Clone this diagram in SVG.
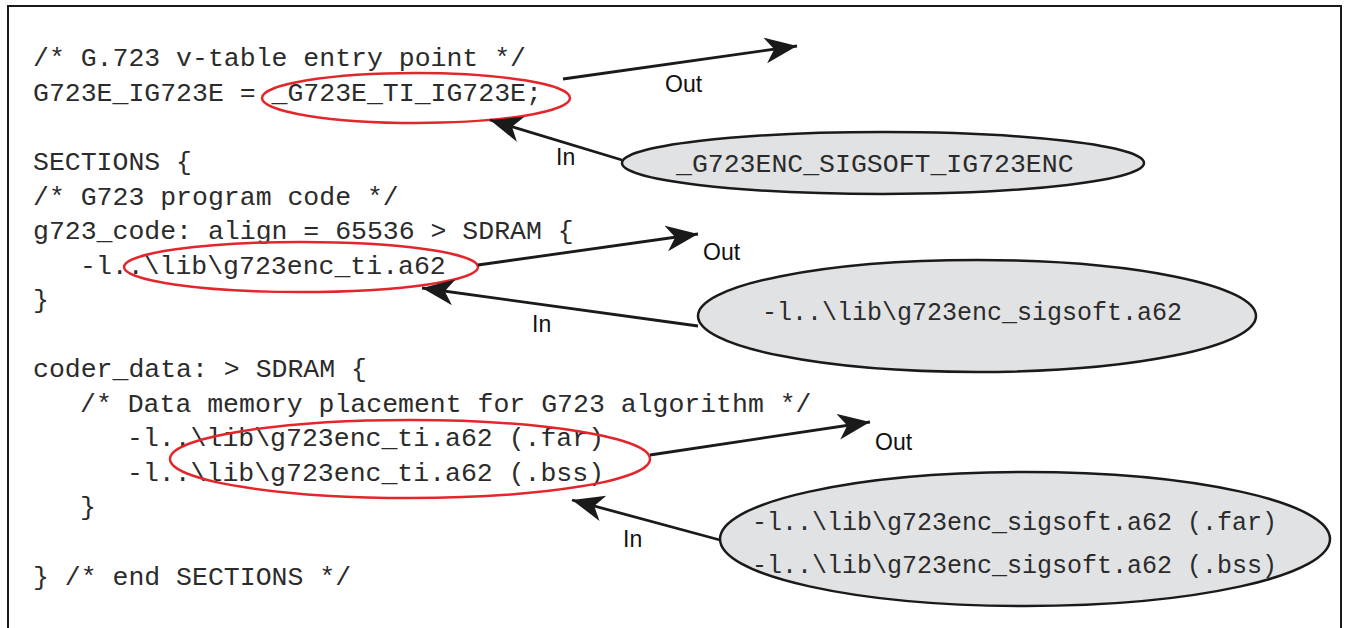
<svg xmlns="http://www.w3.org/2000/svg" width="1348" height="628" viewBox="0 0 1348 628">
  <defs>
    <style>
      .code { font-family: "Liberation Mono", "Courier New", monospace; font-size: 26.5px; fill: #2b2b2b; }
      .ncode { font-family: "Liberation Mono", "Courier New", monospace; font-size: 25px; fill: #2b2b2b; }
      .lbl { font-family: "Liberation Sans", Arial, sans-serif; font-size: 23px; fill: #111; }
      .hl { fill: none; stroke: #e3262b; stroke-width: 2.5; }
      .node { fill: #e1e2e4; stroke: #1a1a1a; stroke-width: 2.5; }
      .conn { fill: none; stroke: #1a1a1a; stroke-width: 2.8; marker-end: url(#ah); }
    </style>
    <marker id="ah" markerUnits="userSpaceOnUse" markerWidth="36" markerHeight="28" refX="32" refY="13" orient="auto">
      <path d="M32,13 L0,0 L9,13 L0,26 Z" fill="#1a1a1a"/>
    </marker>
  </defs>

  <!-- frame -->
  <rect x="8" y="6" width="1333" height="640" fill="#fff" stroke="#1a1a1a" stroke-width="2"/>

  <!-- linker command listing -->
  <g id="listing">
    <text class="code" x="33" y="66">/* G.723 v-table entry point */</text>
    <text class="code" x="33" y="101">G723E_IG723E = _G723E_TI_IG723E;</text>
    <text class="code" x="33" y="170">SECTIONS {</text>
    <text class="code" x="33" y="205">/* G723 program code */</text>
    <text class="code" x="33" y="239">g723_code: align = 65536 &gt; SDRAM {</text>
    <text class="code" x="80" y="274">-l..\lib\g723enc_ti.a62</text>
    <text class="code" x="33" y="308">}</text>
    <text class="code" x="33" y="377">coder_data: &gt; SDRAM {</text>
    <text class="code" x="80" y="412">/* Data memory placement for G723 algorithm */</text>
    <text class="code" x="127" y="446">-l..\lib\g723enc_ti.a62 (.far)</text>
    <text class="code" x="127" y="481">-l..\lib\g723enc_ti.a62 (.bss)</text>
    <text class="code" x="80" y="515">}</text>
    <text class="code" x="33" y="585">} /* end SECTIONS */</text>
  </g>

  <!-- highlighted TI symbols -->
  <g id="ti-entry"><ellipse class="hl" cx="416" cy="98" rx="154" ry="25"/></g>
  <g id="ti-code"><ellipse class="hl" cx="301" cy="267" rx="177" ry="25"/></g>
  <g id="ti-data"><ellipse class="hl" cx="410" cy="459" rx="240" ry="39"/></g>

  <!-- replacement SIGSOFT symbols -->
  <g id="sig-entry">
    <ellipse class="node" cx="883" cy="163" rx="261" ry="31"/>
    <text class="code" x="676" y="172">_G723ENC_SIGSOFT_IG723ENC</text>
  </g>
  <g id="sig-code">
    <ellipse class="node" cx="977" cy="316" rx="279" ry="56"/>
    <text class="ncode" x="762" y="320">-l..\lib\g723enc_sigsoft.a62</text>
  </g>
  <g id="sig-data">
    <ellipse class="node" cx="1025" cy="539" rx="305" ry="67"/>
    <text class="ncode" x="752" y="530">-l..\lib\g723enc_sigsoft.a62 (.far)</text>
    <text class="ncode" x="752" y="573">-l..\lib\g723enc_sigsoft.a62 (.bss)</text>
  </g>

  <!-- in / out connectors -->
  <g id="connectors">
    <line class="conn" x1="563" y1="79" x2="797" y2="46"/>
    <line class="conn" x1="622" y1="160" x2="490" y2="120"/>
    <line class="conn" x1="478" y1="265" x2="698" y2="234"/>
    <line class="conn" x1="698" y1="326" x2="422" y2="288"/>
    <line class="conn" x1="650" y1="455" x2="870" y2="422"/>
    <line class="conn" x1="720" y1="540" x2="572" y2="500"/>
    <text class="lbl" x="665" y="92">Out</text>
    <text class="lbl" x="556" y="165">In</text>
    <text class="lbl" x="703" y="260">Out</text>
    <text class="lbl" x="532" y="332">In</text>
    <text class="lbl" x="875" y="450">Out</text>
    <text class="lbl" x="623" y="547">In</text>
  </g>
</svg>
